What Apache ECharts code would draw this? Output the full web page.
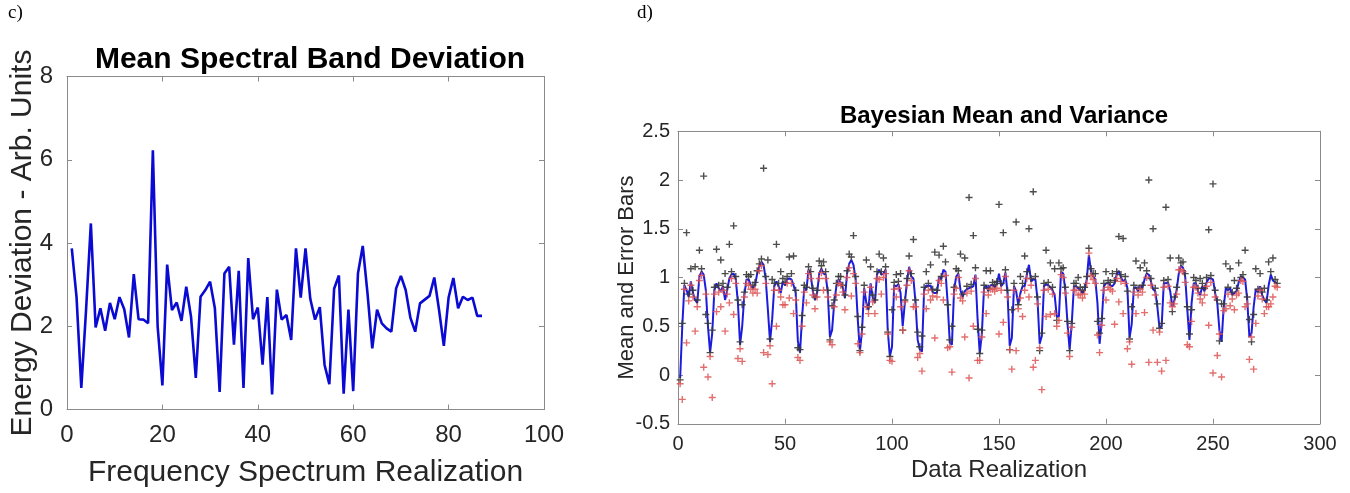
<!DOCTYPE html>
<html>
<head>
<meta charset="utf-8">
<script src="https://cdn.jsdelivr.net/npm/echarts@6/dist/echarts.min.js"></script>
<style>
html,body{margin:0;padding:0;background:#fff;}
#chart{width:1350px;height:493px;}
</style>
</head>
<body>
<div id="chart"></div>
<script>
// ---- Panel c) Mean Spectral Band Deviation ----
const energyDeviation = [3.87,2.70,0.52,2.40,4.47,1.97,2.43,1.89,2.56,2.17,
2.70,2.41,1.73,3.25,2.17,2.16,2.07,6.23,2.00,0.58,
3.48,2.39,2.57,2.13,2.95,2.23,0.76,2.71,2.87,3.07,
2.43,0.42,3.27,3.43,1.56,3.33,0.52,3.64,2.17,2.45,
1.08,2.70,0.36,2.88,2.16,2.27,1.67,3.87,2.69,3.87,
2.66,2.16,2.46,1.07,0.61,2.90,3.22,0.38,2.40,0.44,
3.27,3.93,2.79,1.47,2.40,2.07,1.95,1.87,2.91,3.21,
2.87,2.20,1.87,2.55,2.64,2.73,3.17,2.39,1.53,2.69,
3.16,2.43,2.71,2.63,2.69,2.25,2.25];

// ---- Panel d) Bayesian Mean and Variance ----
const bayesMean = [-0.03,0.50,0.92,0.87,0.80,0.96,0.84,0.77,0.74,1.01,
1.06,1.03,0.87,0.50,0.23,0.43,0.87,0.94,0.89,0.86,
0.91,0.77,0.87,0.99,1.03,1.04,0.98,0.74,0.31,0.50,
0.82,0.98,0.98,0.92,0.89,0.92,1.04,1.11,1.16,1.13,
0.98,0.67,0.34,0.57,0.91,0.96,0.91,0.84,0.96,0.92,
0.98,0.99,0.98,0.92,0.84,0.35,0.23,0.60,0.89,0.87,
1.08,1.03,0.86,0.77,0.84,1.04,1.09,1.04,1.03,0.84,
0.39,0.46,0.74,0.91,0.98,0.95,0.89,0.79,1.04,1.14,
1.18,1.13,0.98,0.57,0.24,0.46,0.89,0.74,0.67,0.94,
0.79,0.74,1.03,1.08,1.03,1.04,1.08,0.46,0.19,0.29,
0.92,0.91,0.93,0.84,0.50,0.74,0.96,1.11,1.01,0.99,
0.74,0.36,0.26,0.24,0.87,0.92,0.91,0.92,0.85,0.84,
0.84,1.01,0.98,1.08,1.06,0.74,0.33,0.31,0.87,1.01,
1.04,0.87,0.80,0.86,0.88,0.89,0.90,0.91,1.03,0.57,
0.22,0.43,0.89,0.92,0.86,0.92,0.92,0.90,0.93,1.04,
0.91,0.94,1.05,0.84,0.30,0.38,0.91,0.86,0.72,0.84,
0.91,0.91,1.03,1.13,0.96,0.98,0.98,0.77,0.32,0.40,
0.91,0.93,0.92,0.90,0.87,0.82,0.60,0.60,1.06,1.04,
0.87,0.53,0.26,0.53,0.91,0.91,0.89,0.87,0.84,0.87,
0.98,1.23,1.06,1.01,0.98,0.74,0.32,0.55,0.91,0.94,
0.94,0.92,0.91,0.94,1.03,1.07,1.00,0.96,0.98,0.89,
0.38,0.52,0.89,0.90,0.86,0.92,0.89,0.98,1.04,1.03,
0.96,0.88,0.86,0.70,0.48,0.50,0.94,0.94,0.95,0.86,
0.70,0.77,0.87,1.04,1.12,1.10,1.01,0.67,0.36,0.74,
0.94,0.94,0.86,0.82,0.91,0.86,0.95,0.99,0.99,0.98,
0.84,0.74,0.46,0.34,0.70,0.89,0.87,0.89,0.82,0.84,
0.86,0.95,1.01,1.00,0.98,0.77,0.39,0.43,0.70,0.88,
0.85,0.91,0.82,0.77,0.74,0.92,1.03,0.97,0.95,0.94];

const upperBar = [-0.05,0.53,0.94,1.46,0.83,1.09,0.87,1.11,0.77,1.28,
1.09,2.04,0.62,0.53,0.23,0.46,0.90,1.29,0.92,1.18,
0.94,1.04,0.90,1.34,1.06,1.53,1.01,0.77,0.34,0.72,
0.85,1.03,1.01,1.03,0.92,0.95,1.07,1.14,1.19,2.12,
1.01,1.18,0.37,0.98,0.94,1.34,0.94,1.06,0.99,0.95,
1.01,1.21,1.04,1.22,0.87,0.28,0.26,0.61,0.92,0.90,
1.11,1.06,0.89,0.80,0.87,1.17,1.12,1.16,1.06,0.87,
0.36,0.71,0.77,0.94,1.01,1.01,0.92,0.82,1.07,1.24,
1.21,1.43,1.01,0.60,0.25,0.49,0.92,1.18,0.70,1.11,
0.82,0.77,1.06,1.24,1.06,1.20,1.11,0.44,0.19,0.67,
0.95,1.03,0.96,1.04,0.46,0.77,0.99,1.22,1.04,1.39,
0.77,0.44,0.29,0.40,0.90,1.06,0.94,1.13,0.88,1.26,
0.87,1.23,1.01,1.32,1.16,0.72,0.36,0.50,0.90,1.09,
1.07,1.24,0.83,1.20,0.91,1.82,0.93,1.43,1.10,0.47,
0.22,0.46,0.92,1.07,0.89,1.07,0.95,0.93,0.96,1.75,
0.94,1.46,1.08,0.87,0.26,0.67,0.94,1.57,0.72,1.01,
0.94,1.22,1.06,1.50,0.99,1.88,1.01,0.80,0.25,0.43,
0.94,1.28,0.95,1.15,0.90,1.09,0.56,1.15,1.09,1.10,
0.90,0.55,0.25,0.53,0.94,0.94,1.00,0.90,0.87,0.90,
1.01,1.30,1.09,1.04,1.04,0.55,0.43,0.58,0.94,1.06,
0.97,0.95,1.04,0.97,1.06,1.42,1.03,1.40,1.01,0.86,
0.37,0.70,0.92,1.17,0.89,1.10,0.92,1.15,1.07,2.00,
0.99,1.50,0.89,0.73,0.48,0.53,0.97,1.72,0.98,1.20,
0.65,0.80,0.90,1.20,1.15,1.16,1.04,0.70,0.42,0.67,
1.00,0.97,0.89,0.99,0.94,0.89,1.00,1.49,1.02,1.96,
0.87,0.77,0.35,0.73,0.73,1.14,0.90,1.09,0.85,0.97,
0.89,1.15,1.00,1.03,1.28,0.80,0.57,0.34,0.62,1.09,
0.88,1.04,0.85,0.89,0.77,1.16,1.06,1.20,0.98,0.94];

const lowerBar = [-0.09,-0.25,0.88,0.33,0.76,0.92,0.80,0.45,0.70,0.97,
1.02,0.08,0.83,-0.02,0.19,-0.23,0.83,0.65,0.85,0.70,
0.87,0.45,0.83,0.74,0.99,0.62,0.94,0.17,0.27,0.14,
0.80,0.94,0.92,0.88,0.84,0.88,0.84,1.07,1.12,0.23,
0.94,0.21,0.30,-0.09,0.87,0.50,0.87,0.80,0.72,0.72,
0.94,0.79,0.94,0.63,0.77,0.18,0.15,0.50,0.85,0.74,
1.04,0.99,0.82,0.68,0.80,0.99,1.05,0.87,0.99,0.80,
0.34,0.31,0.70,0.82,0.94,0.92,0.85,0.67,1.00,1.10,
0.81,1.04,0.94,0.32,0.23,0.42,0.85,0.70,0.63,0.90,
0.75,0.63,0.99,0.98,0.83,1.00,1.04,0.42,0.15,0.14,
0.88,0.80,0.89,0.70,0.46,0.75,0.92,1.07,0.97,0.70,
0.70,0.18,0.22,0.04,0.83,0.68,0.87,0.77,0.81,0.38,
0.80,0.97,0.94,0.77,1.02,0.28,0.29,0.03,0.83,0.89,
1.00,0.79,0.76,0.39,0.84,-0.03,0.86,0.50,0.99,0.15,
0.15,0.39,0.85,0.63,0.82,0.88,0.88,0.86,0.89,0.42,
0.87,0.54,1.01,0.80,0.26,0.06,0.87,0.25,0.68,0.79,
0.60,0.87,0.99,0.80,0.92,0.08,0.15,0.73,0.28,-0.15,
0.87,0.60,0.88,0.62,0.83,0.63,0.50,0.56,1.03,1.00,
0.84,0.43,0.19,0.49,0.87,0.87,0.82,0.83,0.79,0.83,
0.94,1.25,1.02,0.98,0.94,0.41,0.23,0.51,0.87,0.77,
0.90,0.88,0.86,0.52,0.99,0.75,0.96,0.63,0.94,0.27,
0.34,0.11,0.85,0.63,0.82,0.88,0.85,0.64,1.00,0.13,
0.92,0.46,0.82,0.13,0.44,0.04,0.90,0.15,0.91,0.74,
0.70,0.73,0.83,1.08,1.08,1.06,0.95,0.31,0.29,0.55,
0.90,0.90,0.84,0.78,0.74,0.82,0.91,0.51,0.95,0.02,
0.80,0.20,0.42,-0.02,0.66,0.68,0.83,0.71,0.78,0.67,
0.82,0.84,0.97,0.96,0.70,0.73,0.16,0.39,0.06,0.53,
0.81,0.87,0.78,0.63,0.70,0.70,0.73,0.80,0.91,0.90];

const leftXTicks = {min: 0, max: 100, interval: 20};
const leftYTicks = {min: 0, max: 8, interval: 2};
const rightXTicks = {min: 0, max: 300, interval: 50};
const rightYTicks = {min: -0.5, max: 2.5, interval: 0.5};

const toPairs = arr => arr.map((v, i) => [i + 1, v]);

const FONT = 'Liberation Sans, Arial, Helvetica, sans-serif';
const AXIS_GRAY = '#8a8a8a';
const TXT = '#262626';
const PLUS = 'path://M4,0H6V4H10V6H6V10H4V6H0V4H4Z';

function mainAxis(range, pos, gridIndex, fontSize, margin, name, nameGap, nameSize, nameRot) {
  return {
    type: 'value', gridIndex, position: pos,
    min: range.min, max: range.max, interval: range.interval,
    splitLine: {show: false},
    axisLine: {show: true, onZero: false, lineStyle: {color: AXIS_GRAY, width: 1}},
    axisTick: {show: true, inside: true, length: 5, lineStyle: {color: AXIS_GRAY}},
    axisLabel: {show: true, color: TXT, fontFamily: FONT, fontSize, margin},
    name, nameLocation: 'middle', nameGap, nameRotate: nameRot,
    nameMoveOverlap: false,
    nameTextStyle: {color: TXT, fontFamily: FONT, fontSize: nameSize}
  };
}
function mirrorAxis(range, pos, gridIndex) {
  return {
    type: 'value', gridIndex, position: pos,
    min: range.min, max: range.max, interval: range.interval,
    splitLine: {show: false},
    axisLine: {show: true, onZero: false, lineStyle: {color: AXIS_GRAY, width: 1}},
    axisTick: {show: true, inside: true, length: 5, lineStyle: {color: AXIS_GRAY}},
    axisLabel: {show: false}
  };
}

const chart = echarts.init(document.getElementById('chart'), null, {renderer: 'canvas'});
chart.setOption({
  animation: false,
  backgroundColor: '#fff',
  title: [
    {text: 'Mean Spectral Band Deviation', left: 305, top: 40, textAlign: 'center',
     textStyle: {fontFamily: FONT, fontWeight: 'bold', fontSize: 30, color: '#000'}},
    {text: 'Bayesian Mean and Variance', left: 999, top: 99, textAlign: 'center',
     textStyle: {fontFamily: FONT, fontWeight: 'bold', fontSize: 24, color: '#000'}}
  ],
  graphic: [
    {type: 'text', left: 8, top: 4, style: {text: 'c)', fontFamily: 'Liberation Serif, Times New Roman, serif', fontSize: 19, fill: '#000'}},
    {type: 'text', left: 637, top: 4, style: {text: 'd)', fontFamily: 'Liberation Serif, Times New Roman, serif', fontSize: 19, fill: '#000'}}
  ],
  grid: [
    {left: 67, top: 76.5, width: 477, height: 333, containLabel: false},
    {left: 678, top: 131.25, width: 642, height: 292.5, containLabel: false}
  ],
  xAxis: [
    mainAxis(leftXTicks, 'bottom', 0, 24, 14, 'Frequency Spectrum Realization', 48, 30, 0),
    mirrorAxis(leftXTicks, 'top', 0),
    mainAxis(rightXTicks, 'bottom', 1, 20, 11, 'Data Realization', 35, 24, 0),
    mirrorAxis(rightXTicks, 'top', 1)
  ],
  yAxis: [
    mainAxis(leftYTicks, 'left', 0, 24, 14, 'Energy Deviation - Arb. Units', 29, 30, 90),
    mirrorAxis(leftYTicks, 'right', 0),
    mainAxis(rightYTicks, 'left', 1, 20, 8, 'Mean and Error Bars', 40, 22, 90),
    mirrorAxis(rightYTicks, 'right', 1)
  ],
  series: [
    {type: 'line', xAxisIndex: 0, yAxisIndex: 0, data: toPairs(energyDeviation),
     showSymbol: false, symbol: 'none', lineStyle: {color: '#0a0ad2', width: 2.6}, z: 2},
    {type: 'line', xAxisIndex: 2, yAxisIndex: 2, data: toPairs(bayesMean),
     showSymbol: false, symbol: 'none', lineStyle: {color: '#1c1cdc', width: 2}, z: 2},
    {type: 'scatter', xAxisIndex: 2, yAxisIndex: 2, data: toPairs(upperBar),
     symbol: PLUS, symbolSize: 7, itemStyle: {color: '#3a3a3a', opacity: 0.9}, z: 3},
    {type: 'scatter', xAxisIndex: 2, yAxisIndex: 2, data: toPairs(lowerBar),
     symbol: PLUS, symbolSize: 7, itemStyle: {color: '#dd5555', opacity: 0.85}, z: 3}
  ]
});
</script>
</body>
</html>
